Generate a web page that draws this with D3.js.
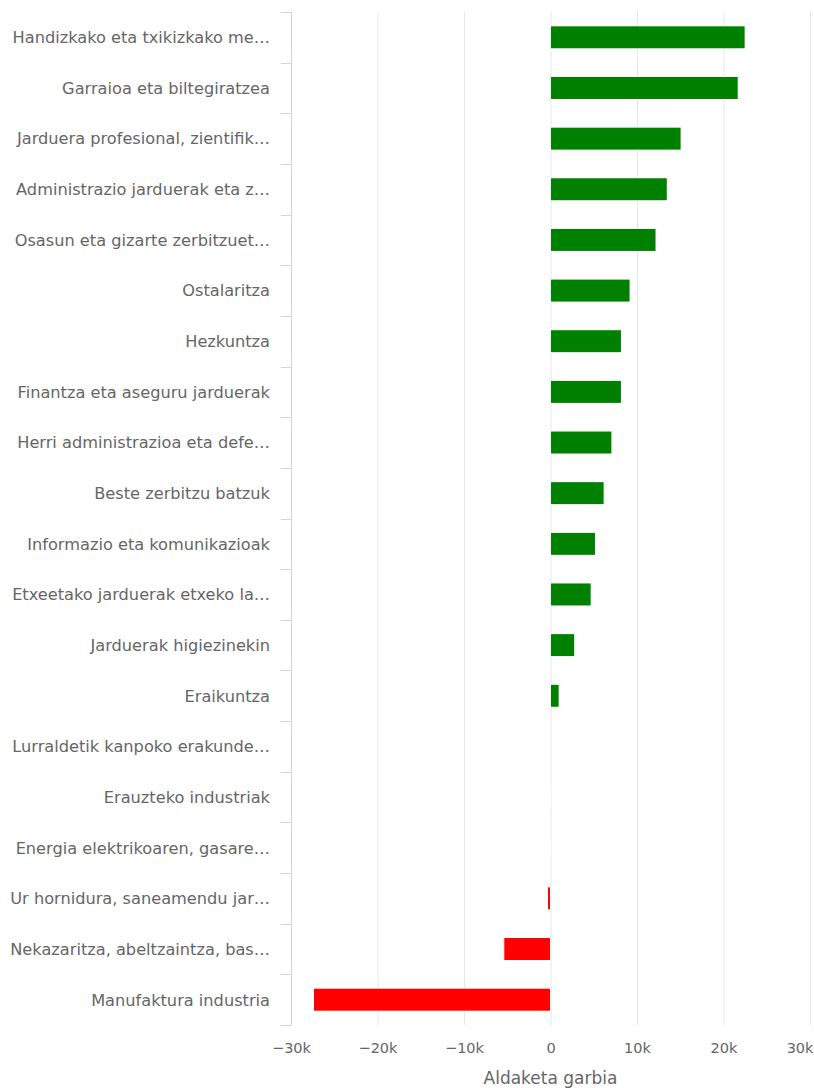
<!DOCTYPE html>
<html>
<head>
<meta charset="utf-8">
<script src="https://cdn.jsdelivr.net/npm/d3@7/dist/d3.min.js"></script>
<style>
  html, body { margin: 0; padding: 0; background: #ffffff; }
  svg { display: block; }
  text { font-family: "DejaVu Sans", "Open Sans", sans-serif; }
</style>
</head>
<body>
<svg id="chart" width="814" height="1088"></svg>
<script>
const categories = [
  "Handizkako eta txikizkako me…",
  "Garraioa eta biltegiratzea",
  "Jarduera profesional, zientifik…",
  "Administrazio jarduerak eta z…",
  "Osasun eta gizarte zerbitzuet…",
  "Ostalaritza",
  "Hezkuntza",
  "Finantza eta aseguru jarduerak",
  "Herri administrazioa eta defe…",
  "Beste zerbitzu batzuk",
  "Informazio eta komunikazioak",
  "Etxeetako jarduerak etxeko la…",
  "Jarduerak higiezinekin",
  "Eraikuntza",
  "Lurraldetik kanpoko erakunde…",
  "Erauzteko industriak",
  "Energia elektrikoaren, gasare…",
  "Ur hornidura, saneamendu jar…",
  "Nekazaritza, abeltzaintza, bas…",
  "Manufaktura industria"
];
const values = [
  22500, 21700, 15100, 13500, 12200, 9200, 8200, 8200, 7100, 6200,
  5200, 4700, 2800, 1000, 0, -20, -30, -350, -5400, -27400
];
const xTicks = [-30000, -20000, -10000, 0, 10000, 20000, 30000];
const xTitle = "Aldaketa garbia";

(function () {
const svg = d3.select("#chart");
const mLeft = 291, mRight = 810, mTop = 12, mBottom = 1025;

const x = d3.scaleLinear().domain([-30000, 30000]).range([mLeft, mRight]);
const y = d3.scaleBand().domain(categories).range([mTop, mBottom]).paddingInner(0).paddingOuter(0);

// grid lines
svg.append("g")
  .selectAll("line")
  .data(xTicks)
  .join("line")
  .attr("x1", d => x(d) + 0.5).attr("x2", d => x(d) + 0.5)
  .attr("y1", mTop).attr("y2", mBottom)
  .attr("stroke", "#e6e6e6").attr("stroke-width", 1);

// bars
const barH = 23;
svg.append("g")
  .selectAll("rect")
  .data(categories.map((c, i) => ({ c, v: values[i] })))
  .join("rect")
  .attr("x", d => Math.min(x(0), x(d.v)))
  .attr("y", d => y(d.c) + y.bandwidth() / 2 - barH / 2)
  .attr("width", d => Math.abs(x(d.v) - x(0)))
  .attr("height", barH)
  .attr("fill", d => d.v >= 0 ? "#008000" : "#ff0000")
  .attr("stroke", "#ffffff")
  .attr("stroke-width", 1);

// y axis line and boundary ticks
const yAxisG = svg.append("g");
yAxisG.append("line")
  .attr("x1", mLeft + 0.5).attr("x2", mLeft + 0.5)
  .attr("y1", mTop).attr("y2", mBottom)
  .attr("stroke", "#ccd6eb").attr("stroke-width", 1);
const boundaries = categories.map(c => y(c)).concat([y.range()[1]]);
yAxisG.selectAll("line.tick")
  .data(boundaries)
  .join("line")
  .attr("class", "tick")
  .attr("x1", mLeft - 10).attr("x2", mLeft + 0.5)
  .attr("y1", d => Math.round(d) + 0.5).attr("y2", d => Math.round(d) + 0.5)
  .attr("stroke", "#ccd6eb").attr("stroke-width", 1);

// y labels
const yLabels = d3.axisLeft(y).tickSize(0).tickPadding(0);
const yl = svg.append("g").attr("transform", `translate(${mLeft - 21},0)`).call(yLabels);
yl.select(".domain").remove();
yl.selectAll("text")
  .attr("fill", "#666666")
  .style("font-size", "16.2px")
  .attr("dy", "0.36em");

// x axis
const xAxis = d3.axisBottom(x).tickValues(xTicks).tickSize(0).tickPadding(0)
  .tickFormat(d => d === 0 ? "0" : d3.format("~s")(d));
const xg = svg.append("g").attr("transform", `translate(0,1048)`).call(xAxis);
xg.select(".domain").remove();
xg.selectAll("text")
  .attr("fill", "#666666")
  .style("font-size", "14.5px")
  .attr("y", 0)
  .attr("dy", "0.36em");
// keep the last label inside the picture, as the reference does
xg.selectAll(".tick").filter(d => d === xTicks[xTicks.length - 1])
  .select("text").attr("text-anchor", "end").attr("x", 3);

svg.append("text")
  .attr("x", (mLeft + mRight) / 2)
  .attr("y", 1084)
  .attr("text-anchor", "middle")
  .attr("fill", "#666666")
  .style("font-size", "17px")
  .text(xTitle);
})();
</script>
</body>
</html>
